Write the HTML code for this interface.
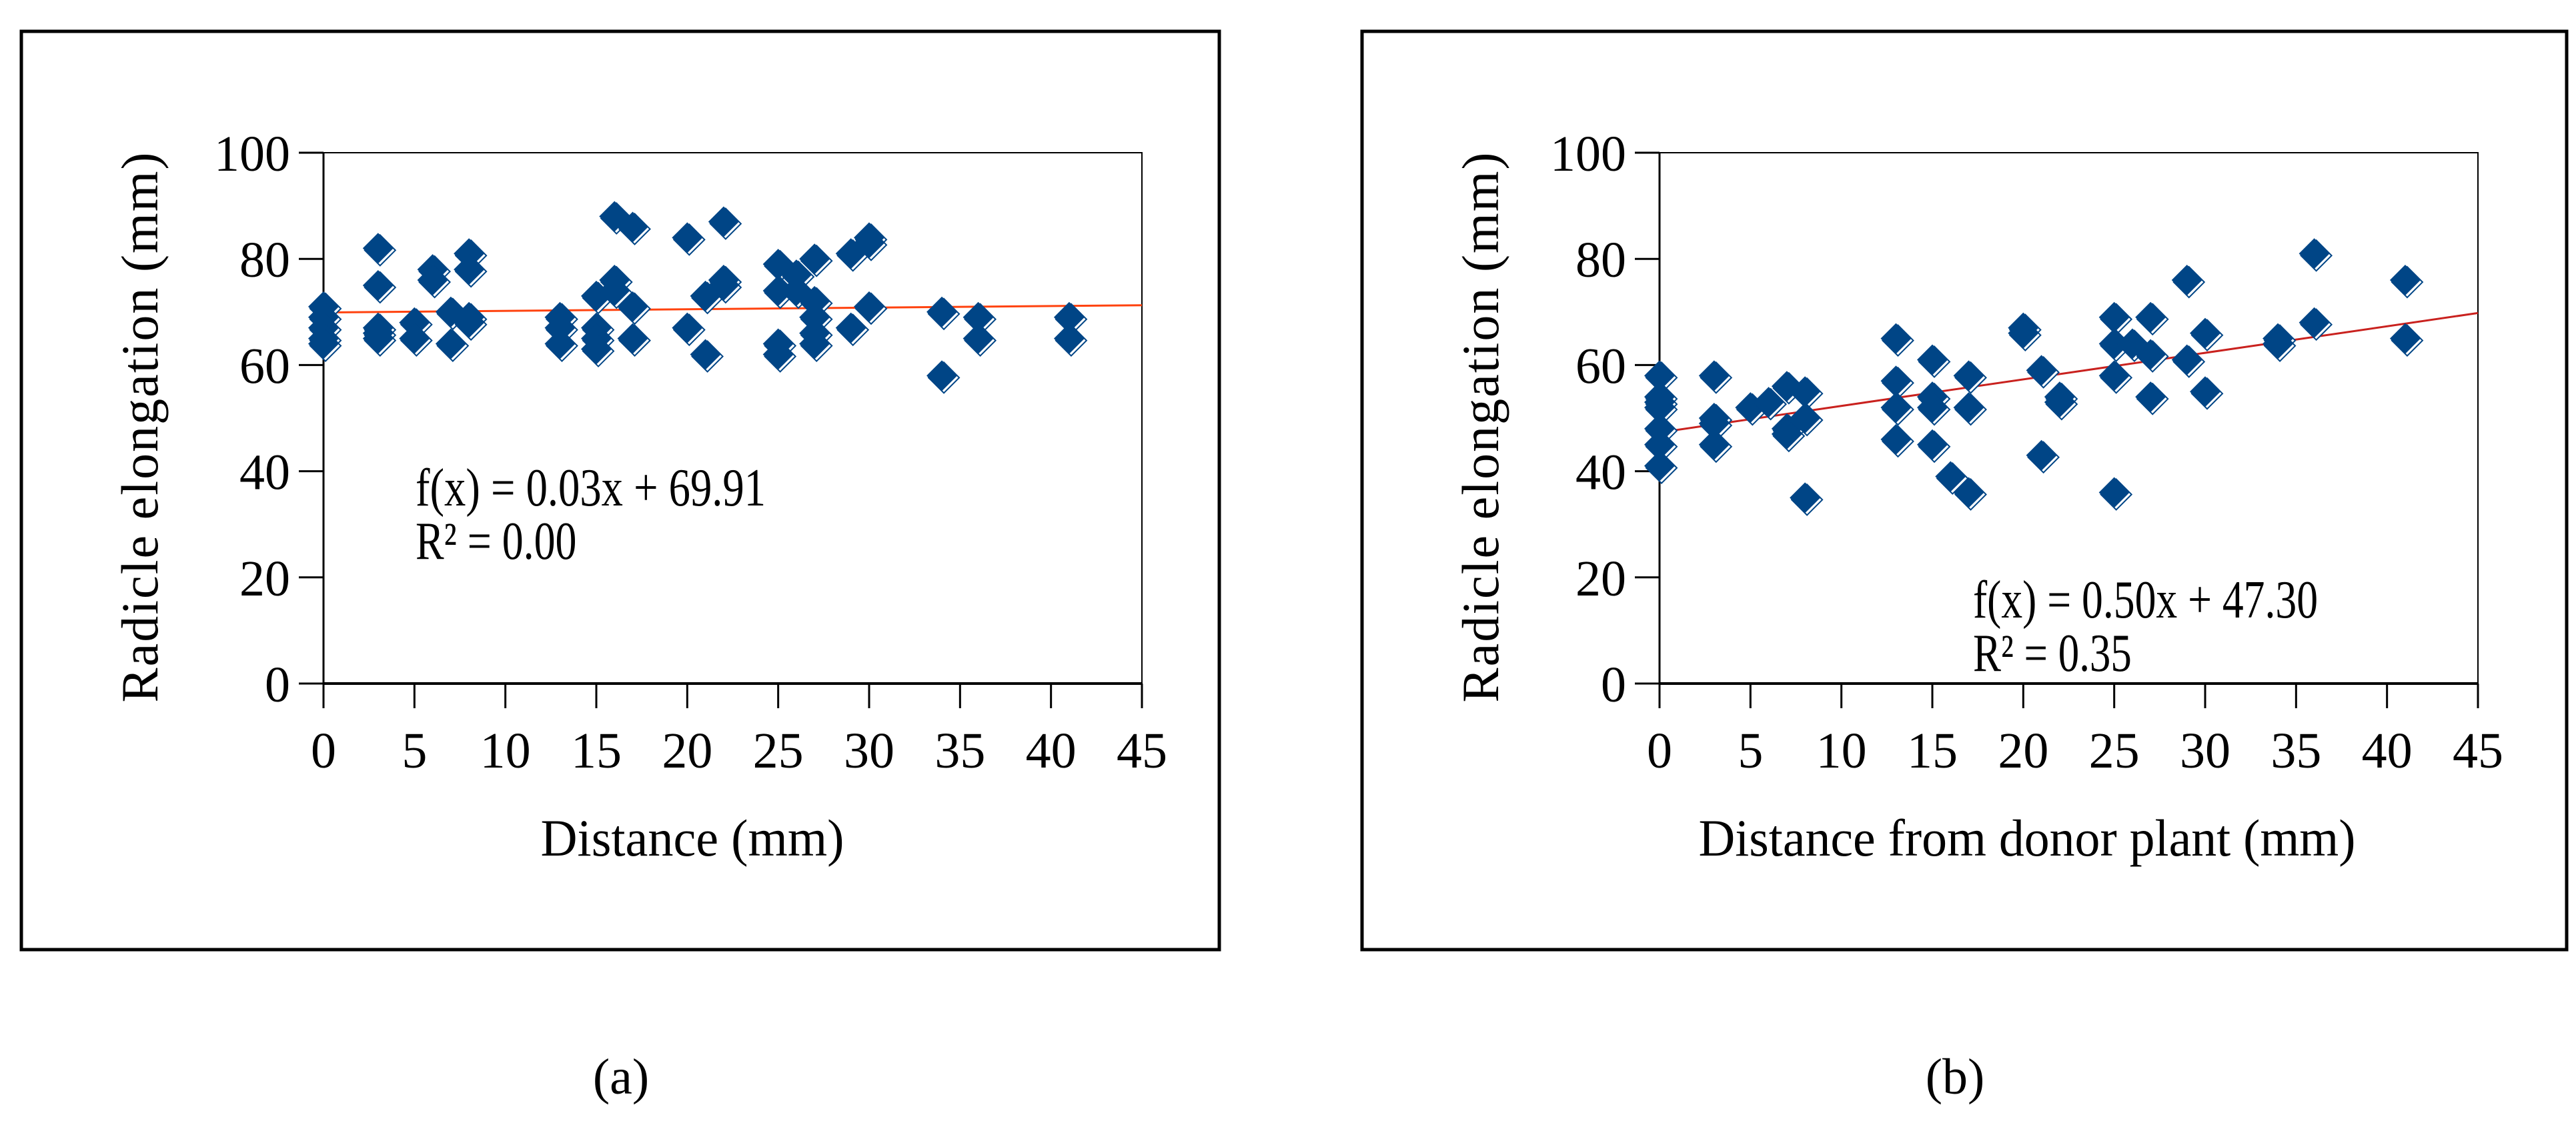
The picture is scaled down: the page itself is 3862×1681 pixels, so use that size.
<!DOCTYPE html>
<html><head><meta charset="utf-8"><style>
html,body{margin:0;padding:0;background:#fff;}
svg{display:block;font-family:"Liberation Serif","Times New Roman",serif;}
</style></head><body>
<svg id="fig" width="3862" height="1681" viewBox="0 0 3862 1681">
<rect x="0" y="0" width="3862" height="1681" fill="#fff"/>
<rect x="32" y="47" width="1796" height="1377" fill="none" stroke="#000" stroke-width="5"/>
<rect x="2042" y="47" width="1806" height="1377" fill="none" stroke="#000" stroke-width="5"/>
<text x="931" y="1640" font-size="76" text-anchor="middle">(a)</text>
<text x="2931" y="1640" font-size="76" text-anchor="middle">(b)</text>
<g id="chartA"></g>
<g id="chartB"></g>
</svg>
<script>
const xTicks=[0,5,10,15,20,25,30,35,40,45];
const yTicks=[0,20,40,60,80,100];
const aX=[0,0,0,0,0,3,3,3,3,3,5,5,6,6,7,7,8,8,8,8,13,13,13,15,15,15,15,16,16,16,17,17,17,20,20,21,21,22,22,22,25,25,25,25,26,26,27,27,27,27,27,29,29,30,30,30,34,34,36,36,41,41];
const aY=[71,69,67,65,64,82,75,67,66,65,68,65,78,76,70,64,81,78,69,68,69,67,64,73,67,65,63,88,76,74,86,71,65,84,67,73,62,87,76,75,79,74,64,62,77,74,80,72,69,66,64,81,67,84,83,71,70,58,69,65,69,65];
const aFit=[0.03,69.91];
const aEq=["f(x) = 0.03x + 69.91","R² = 0.00"];
const bX=[0,0,0,0,0,0,0,3,3,3,3,5,6,7,7,7,8,8,8,13,13,13,13,15,15,15,15,16,17,17,17,20,20,21,21,22,22,25,25,25,25,26,27,27,27,29,29,30,30,34,34,36,36,41,41];
const bY=[58,54,53,52,48,45,41,58,50,49,45,52,53,56,48,47,55,50,35,65,57,52,46,61,54,52,45,39,58,52,36,67,66,59,43,54,53,69,64,58,36,64,69,62,54,76,61,66,55,65,64,81,68,76,65];
const bFit=[0.50,47.30];
const bEq=["f(x) = 0.50x + 47.30","R² = 0.35"];
const NS="http://www.w3.org/2000/svg";
function mk(p,tag,at){const e=document.createElementNS(NS,tag);for(const k in at)e.setAttribute(k,at[k]);p.appendChild(e);return e;}
function draw(g,cfg){
  const x0=cfg.left,x1=cfg.left+1227,yT=229,yB=1025;
  const sx=v=>x0+(v-0)/45*(x1-x0);
  const sy=v=>yB-(v-0)/100*(yB-yT);
  const plot=mk(g,'rect',{x:x0,y:yT,width:x1-x0,height:yB-yT,fill:'none',stroke:'#000','stroke-width':2});
  
  
  const xa=mk(g,'line',{x1:x0,y1:yB,x2:x1,y2:yB,stroke:'#000','stroke-width':4});
  
  
  const ya=mk(g,'line',{x1:x0,y1:yT,x2:x0,y2:yB,stroke:'#000','stroke-width':3});
  
  
  xTicks.forEach(t=>{
    const l=mk(g,'line',{x1:sx(t),y1:yB,x2:sx(t),y2:yB+37,stroke:'#000','stroke-width':3});
    
    
    const tx=mk(g,'text',{x:sx(t),y:1151,'font-size':76,'text-anchor':'middle'});tx.textContent=t;
    
    
  });
  yTicks.forEach(t=>{
    const l=mk(g,'line',{x1:x0-37,y1:sy(t),x2:x0,y2:sy(t),stroke:'#000','stroke-width':3});
    
    
    const tx=mk(g,'text',{x:x0-50,y:sy(t)+27,'font-size':76,'text-anchor':'end'});tx.textContent=t;
    
    
  });
  const tl=mk(g,'line',{x1:sx(0),y1:sy(cfg.fit[1]),x2:sx(45),y2:sy(cfg.fit[0]*45+cfg.fit[1]),stroke:cfg.lineColor,'stroke-width':3});
  
  
  cfg.xs.forEach((xv,i)=>{
    const cx=sx(xv),cy=sy(cfg.ys[i]),r=23;
    const sh=mk(g,'polygon',{points:`${cx+3},${cy-r+3} ${cx+r+3},${cy+3} ${cx+3},${cy+r+3} ${cx-r+3},${cy+3}`,fill:'#fff',stroke:'#004586','stroke-width':2});
    
    
    const d=mk(g,'polygon',{points:`${cx},${cy-r} ${cx+r},${cy} ${cx},${cy+r} ${cx-r},${cy}`,fill:'#004586'});
    
    
  });
  const e1=mk(g,'text',{x:cfg.eqX,y:cfg.eqY,'font-size':80,textLength:cfg.eqW,lengthAdjust:'spacingAndGlyphs'});e1.textContent=cfg.eq[0];
  
  
  const e2=mk(g,'text',{x:cfg.eqX,y:cfg.eqY+80,'font-size':80,textLength:cfg.eqW*0.46,lengthAdjust:'spacingAndGlyphs'});e2.textContent=cfg.eq[1];
  
  
  const xt=mk(g,'text',{x:cfg.xtX,y:1283,'font-size':78,'text-anchor':'middle',textLength:cfg.xtW,lengthAdjust:'spacingAndGlyphs'});xt.textContent=cfg.xTitle;
  
  
  const yt=mk(g,'text',{x:0,y:0,'font-size':78,'text-anchor':'middle',textLength:825,lengthAdjust:'spacing',transform:`translate(${cfg.ytX},641) rotate(-90)`});yt.textContent='Radicle elongation (mm)';
  
  
}
draw(document.getElementById('chartA'),{left:485,xs:aX,ys:aY,fit:aFit,eq:aEq,lineColor:'#ff420e',eqX:623,eqY:758,eqW:525,xTitle:'Distance (mm)',xtX:1038,xtW:455,ytX:236});
draw(document.getElementById('chartB'),{left:2488,xs:bX,ys:bY,fit:bFit,eq:bEq,lineColor:'#c9211e',eqX:2958,eqY:926,eqW:517,xTitle:'Distance from donor plant (mm)',xtX:3039,xtW:985,ytX:2246});
</script>
</body></html>
